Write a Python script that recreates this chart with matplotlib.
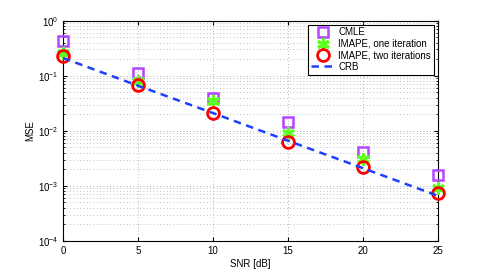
import matplotlib
matplotlib.use("Agg")
import matplotlib.pyplot as plt
from matplotlib.ticker import LogLocator, NullFormatter

snr = [0, 5, 10, 15, 20, 25]
cmle = [0.43, 0.114, 0.040, 0.0143, 0.0041, 0.00158]
imape1 = [0.26, 0.080, 0.035, 0.0091, 0.0031, 0.00092]
imape2 = [0.23, 0.068, 0.021, 0.0062, 0.0022, 0.00074]
crb = [0.21, 0.066, 0.021, 0.0066, 0.0021, 0.00066]

plt.rcParams['font.family'] = ['Liberation Sans', 'DejaVu Sans']

fig = plt.figure(figsize=(4.85, 2.72), dpi=100)
ax = fig.add_axes([0.130, 0.114, 0.773, 0.810])

ax.semilogy(snr, cmle, linestyle='none', marker='s', markersize=7, markerfacecolor='none',
            markeredgecolor='#b446ff', markeredgewidth=1.8, label='CMLE', zorder=3, clip_on=False)
ax.semilogy(snr, imape1, linestyle='none', marker=(6, 2, 0), markersize=9,
            markeredgecolor='#5cff1e', markerfacecolor='#5cff1e', markeredgewidth=2.2,
            label='IMAPE, one iteration', zorder=4, clip_on=False)
ax.semilogy(snr, imape2, linestyle='none', marker='o', markersize=8.5, markerfacecolor='none',
            markeredgecolor='#ff0000', markeredgewidth=2, label='IMAPE, two iterations',
            zorder=5, clip_on=False)
ax.semilogy(snr, crb, linestyle=(0, (3, 2.2)), color='#1f3fff', linewidth=1.8, label='CRB', zorder=6)

ax.set_xlim(0, 25)
ax.set_ylim(1e-4, 1)
ax.set_xticks(snr)
ax.yaxis.set_major_locator(LogLocator(base=10, numticks=10))
ax.yaxis.set_minor_locator(LogLocator(base=10, subs=range(2, 10), numticks=10))
ax.yaxis.set_minor_formatter(NullFormatter())

ax.grid(True, which='major', linestyle=(0, (1, 3)), color='#999999', linewidth=0.6)
ax.grid(True, which='minor', axis='y', linestyle=(0, (1, 3)), color='#aaaaaa', linewidth=0.6)

ax.tick_params(which='both', direction='in', labelsize=7, top=True, right=True)
ax.tick_params(which='major', length=3)
ax.tick_params(which='minor', length=1.5)
for s in ax.spines.values():
    s.set_linewidth(0.8)

ax.set_xlabel('SNR [dB]', fontsize=7, labelpad=2)
ax.set_ylabel('MSE', fontsize=7, labelpad=2)

leg = ax.legend(loc='upper right', fontsize=7, frameon=True, fancybox=False,
                edgecolor='black', framealpha=1, borderpad=0.3, labelspacing=0.15,
                handlelength=2.5, handletextpad=0.3, borderaxespad=0.4)
leg.get_frame().set_linewidth(0.8)
leg.set_zorder(10)

fig.savefig('out.png', dpi=100)
